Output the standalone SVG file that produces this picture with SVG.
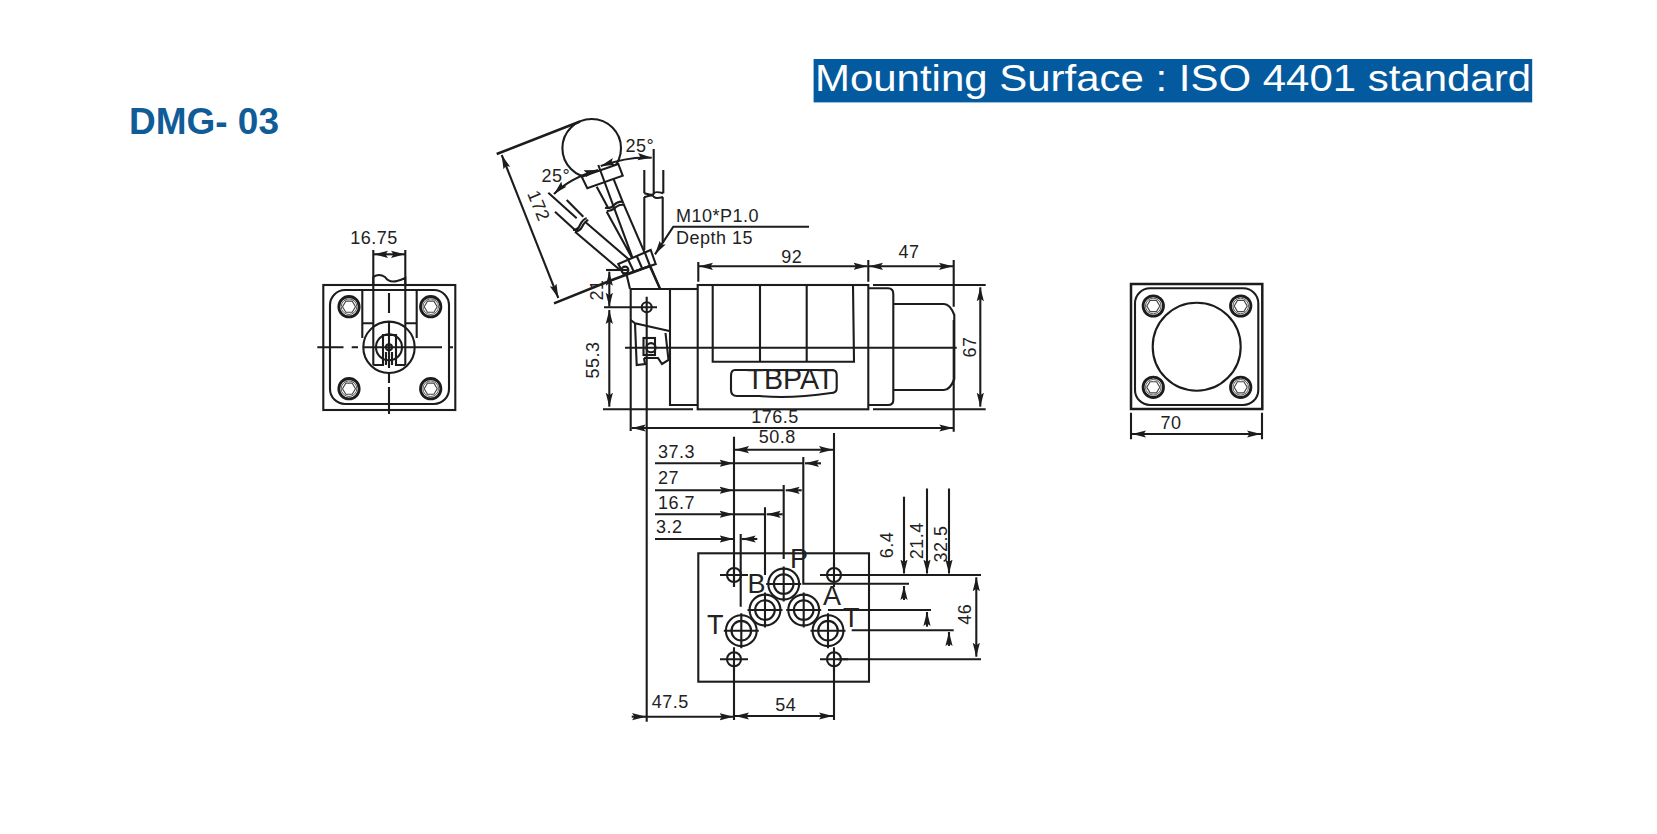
<svg xmlns="http://www.w3.org/2000/svg" width="1657" height="834" viewBox="0 0 1657 834">
<style>
.l{fill:none;stroke:#1c1c1c;stroke-width:2.1}
.t{stroke-width:2.5}
.w{fill:#fff;stroke:#1c1c1c;stroke-width:2.1}
.a{fill:none;stroke:#1c1c1c;stroke-width:2.1;marker-end:url(#ah)}
.b{fill:none;stroke:#1c1c1c;stroke-width:2.1;marker-start:url(#ah);marker-end:url(#ah)}
.d{font-family:"Liberation Sans",Arial,sans-serif;font-size:18px;fill:#222;letter-spacing:.5px}
.m{text-anchor:middle}
.p{font-family:"Liberation Sans",Arial,sans-serif;font-size:27px;fill:#222}
</style>
<defs>
<marker id="ah" markerUnits="userSpaceOnUse" markerWidth="15" markerHeight="8" refX="14" refY="4" orient="auto-start-reverse"><path d="M0,0.4 L14,4 L0,7.6 L2.5,4 Z" fill="#1c1c1c"/></marker>
<g id="bolt"><circle r="10.2" fill="#fff" stroke="#1c1c1c" stroke-width="2.8"/><circle r="7.8" fill="none" stroke="#555" stroke-width="1"/><polygon points="6.5,0 3.2,5.6 -3.2,5.6 -6.5,0 -3.2,-5.6 3.2,-5.6" fill="#fff" stroke="#444" stroke-width="1.1"/></g>
<g id="hole"><circle r="7" class="l"/><path class="l" d="M-14,0H14M0,-12V12"/></g>
<g id="port"><circle r="15.4" class="w"/><circle r="9.8" class="l"/><path class="l" d="M-17.5,0H17.5M0,-17.5V17.5"/></g>
</defs>
<rect width="1657" height="834" fill="#fff"/>

<g id="title"><text x="129" y="134" font-family="'Liberation Sans',Arial,sans-serif" font-weight="700" font-size="36" fill="#0f5c97" textLength="150" lengthAdjust="spacingAndGlyphs">DMG- 03</text></g>
<g id="banner"><rect x="813.6" y="59" width="718.6" height="43.4" fill="#045a9f"/><text x="815" y="90.5" font-family="'Liberation Sans',Arial,sans-serif" font-size="36" fill="#fff" textLength="716" lengthAdjust="spacingAndGlyphs">Mounting Surface : ISO 4401 standard</text></g>

<g id="left-view">
<rect class="l" x="323.3" y="285" width="132" height="125"/>
<rect class="l" x="330" y="290" width="119" height="114" rx="15"/>
<use href="#bolt" x="349" y="306.7"/><use href="#bolt" x="430.7" y="306.7"/><use href="#bolt" x="349" y="388.7"/><use href="#bolt" x="430.7" y="388.7"/>
<path class="l" d="M362.3,290V338M416.7,290V338M362.3,323.3H373.3M405.3,323.3H416.7"/>
<path class="l" d="M373.3,285V277Q379,273 385,277Q389,283 397,281Q401,280 405.3,278V285"/>
<circle class="l" cx="389" cy="347.3" r="25.7"/>
<circle class="l" cx="389" cy="347.3" r="13"/>
<path class="l" d="M373.3,365H383V335H396V365H405.3M373.3,285V365M405.3,285V365M386,352V365M392,352V365"/>
<circle class="l" cx="389" cy="347.3" r="3"/>
<path class="l" d="M317.3,347.3H343.5M351.7,347.3H358M363,347.3H442M448,347.3H453"/>
<path class="l" d="M389,293V313M389,321V368M389,373V383M389,387V414"/>
</g>

<g id="lever">
<circle class="l" cx="591.7" cy="148.3" r="29.3"/>
<polygon class="w" points="581.7,176.7 618.3,164 622.7,175.7 587.3,188.3"/>
<path class="l" d="M596.7,186.7L608.3,208.3M613.3,178.3L623.3,203.3"/>
<path class="l" d="M605,207.7Q611,209 614,205Q618,201 622.7,201.7M606.7,211Q612,211 616,207Q620,204 624.3,205"/>
<path class="l" d="M606.7,211.7L635,263.3M623.3,203.3L660,288.3M598.3,165L633.3,260"/>
<path class="l" d="M644.3,170V193.3M663.3,170V193.3M644.3,193.3Q653,196 654,193.3Q655,191 663.3,193.3M644.3,197.3Q653,194 654,197Q656,199 663,197M644.3,197V250M662.7,197V243M653.7,149V193"/>
<path class="l" d="M548.3,192.7L576.7,218.3M555,211.7L575,230M566.7,200L583.3,216.7"/>
<path class="l" d="M573,230Q578,230 580,225Q583,219 586.7,218.3M575,231.7Q580,231 582,227Q585,221 588.3,220"/>
<path class="l" d="M575,231.7L620,270M585,221.7L633.3,263.3"/>
<polygon class="w" points="618.3,264 650.7,250 655.7,264 624,275"/>
<path class="l" d="M628.3,260L634,272M636.7,256L642,268M645,253L650,266"/>
<circle class="w t" cx="625" cy="270" r="3.4"/>
<path class="l" d="M626.7,275L630,289M650,266.7L660,289"/>
</g>

<g id="body">
<path class="l" d="M630.7,289H670V405H697.7"/>
<path class="l" d="M670,289H697.7"/>
<path class="l" d="M630.7,320L635,323.3L669.3,331M635,323.3L636.7,365L645,364L644,358M644,358H658L662,364L668.5,360L665.5,333"/>
<rect class="l" x="643.5" y="338" width="11.5" height="17"/>
<circle class="l" cx="651" cy="347.7" r="4.6"/>
<circle class="l" cx="646.7" cy="307.3" r="5"/>
<rect class="l" x="697.7" y="285" width="170.6" height="124.3"/>
<path class="l" d="M712.7,285L712.7,361.7H854L853,285M760,285V361.7M806.7,285V361.7"/>
<path class="l" d="M868.3,288.3H888Q893.3,288.3 893.3,294V400Q893.3,405 888,405H868.3"/>
<path class="l" d="M893.3,304H944Q950,304 954.3,315V379Q950,390 944,390H893.3"/>
<path class="l" d="M735,370H832Q836.7,370 836.7,375V388Q836.7,393 831,393Q790,399 760,396H737Q731,396 731,390V376Q731,370 735,370Z"/>
<text x="746.5" y="389.3" font-family="'Liberation Sans',Arial,sans-serif" font-size="29" fill="#222" textLength="88" lengthAdjust="spacingAndGlyphs">TBPAT</text>
</g>

<g id="right-view">
<rect class="l t" x="1131" y="284" width="131.3" height="125"/>
<rect class="l" x="1135" y="288.3" width="123.3" height="116.7" rx="15"/>
<circle class="l" cx="1196.7" cy="346.7" r="44"/>
<use href="#bolt" x="1153.3" y="306"/><use href="#bolt" x="1240.7" y="306"/><use href="#bolt" x="1153.3" y="387.3"/><use href="#bolt" x="1240.7" y="387.3"/>
</g>

<g id="plate">
<rect class="l" x="698.3" y="553.3" width="170.7" height="128.4"/>
<use href="#hole" x="734" y="575"/><use href="#hole" x="834" y="575"/><use href="#hole" x="734" y="659.3"/><use href="#hole" x="834" y="659.3"/>
<use href="#port" x="783.7" y="584"/><use href="#port" x="765" y="610"/><use href="#port" x="803.7" y="610"/><use href="#port" x="741.3" y="630.7"/><use href="#port" x="828" y="630.7"/>
</g>

<g id="connectors">
<!-- 16.75 -->
<path class="l" d="M373.3,250V285M405.3,250V285"/>
<path class="b" d="M374,254.3H405"/>
<!-- lever dims -->
<path class="l t" d="M496.7,154L580,121.5M554,303.3L612,280L650,266"/>
<path class="b" d="M501.7,155L558.3,298"/>
<path class="b" d="M600.7,166Q630,156 651.7,157.7"/>
<path class="b" d="M598,170Q570,178 554,194"/>
<path class="l" d="M606,270H628"/>
<path class="a" d="M809,226.7H673.3L655,254.3"/>
<path class="b" d="M609.3,271.7V306.7"/>
<path class="l" d="M604,307.3H657"/>
<path class="b" d="M609.3,310V406.7"/>
<path class="l" d="M603,409.3H693M873,409.3H985.7M873,285H985.7"/>
<path class="l" d="M646.7,296.7V721.7M630.7,289V431M953.7,260V306.7M953.7,320V431.7"/>
<path class="l" d="M625,347.7H956.7"/>
<path class="l" d="M698.3,262V281.7M868.3,260V281.7"/>
<path class="b" d="M699,266.3H867.5"/>
<path class="b" d="M869,266.3H953"/>
<path class="b" d="M980.3,287.3V406.7"/>
<path class="b" d="M631.7,428H953.3"/>
<path class="l" d="M1131,412.7V439.3M1262,412.7V439.3"/>
<path class="b" d="M1132,434H1261"/>
<!-- plate dims -->
<path class="l" d="M734,436.7V586.7M834,433V566.7M734,664V720M834,664V720M803.3,457V583.7H909M783.7,485V559M765,507.3V575M740.7,534V606.7"/>
<path class="b" d="M735,449.7H833"/>
<path class="a" d="M655,463.3H733.5"/><path class="l" d="M734,463.3H803.3"/><path class="a" d="M821,463.3H805"/>
<path class="a" d="M655,490.3H733.5"/><path class="l" d="M734,490.3H783.7"/><path class="a" d="M801.7,490.3H785.7"/>
<path class="a" d="M655,514.3H733.5"/><path class="l" d="M734,514.3H765"/><path class="a" d="M782.7,514.3H766.7"/>
<path class="a" d="M655,539H733.5"/><path class="a" d="M757.3,539H741.7"/>
<path class="a" d="M631.7,716.7H646"/><path class="a" d="M646,716.7H733.5"/>
<path class="b" d="M735,716H833"/>
<path class="l" d="M838,575H981M838,659.3H981M828,610H931M851.7,630.3H953.7"/>
<path class="b" d="M976.3,577.3V656.7"/>
<path class="a" d="M904,496.7V573.5"/><path class="a" d="M904,600V586"/>
<path class="a" d="M927,488.5V573.5"/><path class="a" d="M927,626.7V612"/>
<path class="a" d="M949,488.5V573.5"/><path class="a" d="M949,646V632"/>
<!-- labels -->
<text class="p" x="790" y="567.7">P</text><text class="p" x="747.5" y="592.7">B</text><text class="p" x="823" y="605">A</text><text class="p" x="707" y="634">T</text><text class="p" x="843" y="626.7">T</text>
<text class="d m" x="374" y="244">16.75</text>
<text class="d" x="625.5" y="151.7">25°</text>
<text class="d" x="541.5" y="181.7">25°</text>
<text class="d m" transform="translate(533,208) rotate(68)">172</text>
<text class="d" x="676" y="222.3">M10*P1.0</text>
<text class="d" x="676" y="244.3">Depth 15</text>
<text class="d m" transform="translate(602.5,290) rotate(-90)">21</text>
<text class="d m" transform="translate(599,360) rotate(-90)">55.3</text>
<text class="d m" x="791.7" y="263">92</text>
<text class="d m" x="909" y="258.3">47</text>
<text class="d m" transform="translate(975.5,347) rotate(-90)">67</text>
<text class="d m" x="775" y="422.7">176.5</text>
<text class="d m" x="1171" y="429">70</text>
<text class="d m" x="777.3" y="443.3">50.8</text>
<text class="d" x="658" y="458.3">37.3</text>
<text class="d" x="658" y="484">27</text>
<text class="d" x="658" y="508.7">16.7</text>
<text class="d" x="656" y="532.7">3.2</text>
<text class="d" x="651.7" y="708.3">47.5</text>
<text class="d m" x="785.7" y="711">54</text>
<text class="d m" transform="translate(892.5,545) rotate(-90)">6.4</text>
<text class="d m" transform="translate(923,540.7) rotate(-90)">21.4</text>
<text class="d m" transform="translate(946.5,544) rotate(-90)">32.5</text>
<text class="d m" transform="translate(970.5,614.3) rotate(-90)">46</text>
</g>
</svg>
